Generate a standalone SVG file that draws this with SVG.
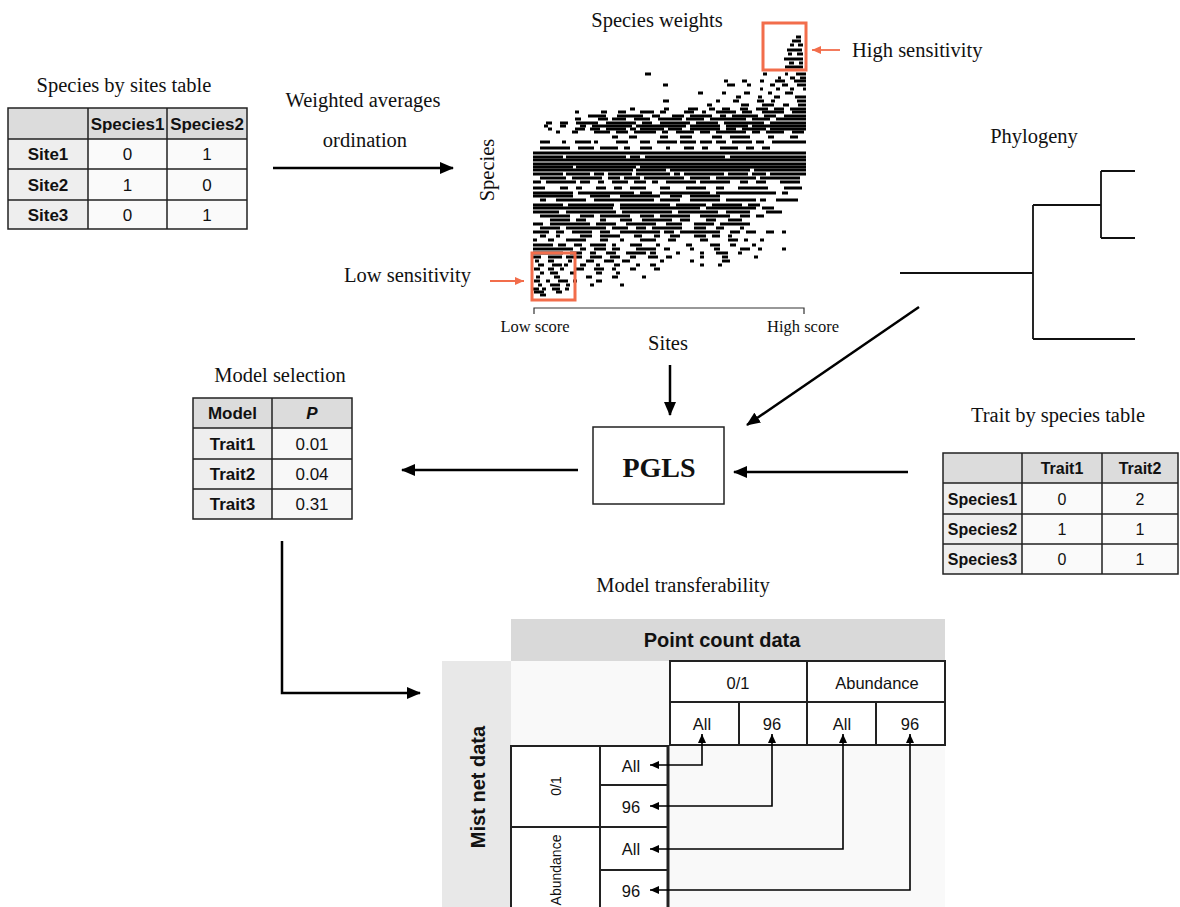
<svg xmlns="http://www.w3.org/2000/svg" width="1180" height="907" viewBox="0 0 1180 907">
  <style>
    .ttl { font-family: "Liberation Serif", serif; font-size: 20.5px; fill: #111; }
    .sm { font-family: "Liberation Serif", serif; font-size: 16.5px; fill: #111; }
    .tb { font-family: "Liberation Sans", Arial, sans-serif; font-size: 17px; fill: #111; text-anchor: middle; dominant-baseline: central; }
    .b { font-weight: bold; }
    .grid { fill: none; stroke: #222; stroke-width: 1.5; }
    .cell { stroke: #222; stroke-width: 2; fill: #fff; }
    .conn { fill: none; stroke: #000; stroke-width: 2.5; }
    .thin { fill: none; stroke: #000; stroke-width: 1.6; }
    .org { fill: none; stroke: #f26d4b; stroke-width: 3; }
    .raster path { stroke: #000; stroke-width: 2.9; fill: none; }
  </style>
  <defs>
    <marker id="ah" markerUnits="userSpaceOnUse" markerWidth="14" markerHeight="12" refX="13" refY="6" orient="auto-start-reverse">
      <path d="M0,0 L14,6 L0,12 z" fill="#000"/>
    </marker>
    <marker id="ahs" markerUnits="userSpaceOnUse" markerWidth="9" markerHeight="8" refX="9" refY="4" orient="auto-start-reverse">
      <path d="M0,0 L9,4 L0,8 z" fill="#000"/>
    </marker>
    <marker id="aho" markerUnits="userSpaceOnUse" markerWidth="9" markerHeight="8" refX="9" refY="4" orient="auto">
      <path d="M0,0 L9,4 L0,8 z" fill="#f26d4b"/>
    </marker>
  </defs>
  <rect width="1180" height="907" fill="#fff"/>

  <!-- Species by sites table -->
  <g id="sites-table">
    <text class="ttl" x="124" y="92" text-anchor="middle">Species by sites table</text>
    <rect x="8" y="108" width="239" height="31" fill="#dcdcdc"/>
    <rect x="8" y="139" width="80" height="90" fill="#eeeeee"/>
    <rect x="88" y="139" width="159" height="90" fill="#fafafa"/>
    <path class="grid" d="M8 108H247V229H8Z M88 108V229 M167 108V229 M8 139H247 M8 169H247 M8 200H247"/>
    <text class="tb b" x="127.5" y="124">Species1</text>
    <text class="tb b" x="207" y="124">Species2</text>
    <text class="tb b" x="48" y="154">Site1</text>
    <text class="tb" x="127.5" y="154">0</text>
    <text class="tb" x="207" y="154">1</text>
    <text class="tb b" x="48" y="185">Site2</text>
    <text class="tb" x="127.5" y="185">1</text>
    <text class="tb" x="207" y="185">0</text>
    <text class="tb b" x="48" y="215">Site3</text>
    <text class="tb" x="127.5" y="215">0</text>
    <text class="tb" x="207" y="215">1</text>
  </g>

  <!-- Ordination label -->
  <g id="ordination-label">
    <text class="ttl" x="363" y="107" text-anchor="middle">Weighted averages</text>
    <text class="ttl" x="365" y="147" text-anchor="middle">ordination</text>
  </g>

  <!-- Species weights raster -->
  <g id="species-weights">
    <text class="ttl" x="657" y="27" text-anchor="middle">Species weights</text>
    <text class="ttl" transform="translate(494 170) rotate(-90)" text-anchor="middle">Species</text>
    <g class="raster">
      <path d="M796 37h5 M792 41h9 M790 45h4 M798 45h5 M787 50h15 M788 54h4 M797 54h6 M784 59h19 M789 63h5 M799 63h4 M785 67h18"/>
      <path d="M645 74h6 M763 74h4 M785 74h3 M796 74h10"/>
      <path d="M778 78h3 M790 78h5 M800 78h6"/>
      <path d="M724 81h4 M742 81h5 M760 81h4 M775 81h10 M794 81h12"/>
      <path d="M663 85h5 M727 85h8 M747 85h4 M770 85h5 M782 85h6 M797 85h9"/>
      <path d="M760 89h3 M776 89h4 M790 89h4 M803 89h3"/>
      <path d="M698 93h5 M722 93h4 M744 93h6 M768 93h4 M785 93h8"/>
      <path d="M736 97h5 M758 97h4 M774 97h6 M795 97h11"/>
      <path d="M663 101h6 M716 101h4 M733 101h6 M757 101h7 M771 101h4 M797 101h9"/>
      <path d="M707 105h5 M741 105h8 M762 105h12 M783 105h6 M798 105h8"/>
      <path d="M630 109h5 M664 109h5 M688 109h10 M709 109h6 M722 109h8 M740 109h8 M756 109h12 M774 109h10 M790 109h16"/>
      <path d="M575 112h4 M601 112h6 M618 112h8 M640 112h14 M660 112h6 M684 112h10 M702 112h4 M716 112h20 M742 112h10 M762 112h22 M792 112h14"/>
      <path d="M588 116h18 M617 116h26 M652 116h8 M672 116h12 M690 116h22 M720 116h6 M732 116h26 M764 116h12 M784 116h22"/>
      <path d="M575 119h6 M598 119h10 M612 119h14 M634 119h16 M658 119h24 M686 119h18 M710 119h36 M752 119h18 M776 119h30"/>
      <path d="M546 123h6 M560 123h8 M576 123h22 M606 123h30 M642 123h10 M660 123h30 M696 123h22 M724 123h40 M770 123h36"/>
      <path d="M544 126h4 M560 126h6 M580 126h6 M592 126h40 M636 126h50 M690 126h30 M726 126h22 M752 126h54"/>
      <path d="M548 129h4 M575 129h10 M590 129h10 M606 129h20 M630 129h6 M640 129h24 M668 129h14 M690 129h30 M726 129h10 M742 129h24 M770 129h36"/>
      <path d="M556 132h4 M572 132h6 M594 132h16 M616 132h12 M634 132h22 M662 132h6 M676 132h18 M700 132h10 M716 132h30 M752 132h8 M766 132h18 M792 132h12"/>
      <path d="M612 137h6 M629 137h8 M660 137h8 M680 137h12 M712 137h10 M730 137h20 M768 137h6 M790 137h8"/>
      <path d="M540 142h10 M562 142h4 M575 142h16 M594 142h4 M616 142h12 M640 142h10 M657 142h20 M680 142h16 M700 142h12 M716 142h10 M732 142h20 M756 142h8 M772 142h34"/>
      <path d="M540 148h30 M578 148h16 M600 148h18 M624 148h6 M640 148h12 M666 148h4 M684 148h10 M702 148h6 M720 148h18 M746 148h8 M762 148h8"/>
      <path d="M533 153h273"/>
      <path d="M533 157h30 M566 157h60 M630 157h10 M645 157h80 M730 157h76"/>
      <path d="M533 160h273"/>
      <path d="M533 164h273"/>
      <path d="M533 167h40 M576 167h60 M640 167h166"/>
      <path d="M533 170h100 M636 170h30 M670 170h80 M754 170h52"/>
      <path d="M533 174h30 M566 174h24 M594 174h10 M608 174h24 M636 174h34 M674 174h6 M684 174h40 M728 174h20 M752 174h14 M770 174h36"/>
      <path d="M540 178h26 M572 178h30 M608 178h12 M624 178h16 M644 178h40 M690 178h20 M716 178h40 M760 178h40"/>
      <path d="M533 182h8 M546 182h30 M580 182h10 M598 182h6 M612 182h16 M634 182h12 M652 182h6 M666 182h30 M700 182h30 M740 182h8 M756 182h10 M780 182h20"/>
      <path d="M533 188h12 M560 188h8 M576 188h6 M596 188h10 M614 188h8 M630 188h16 M660 188h10 M686 188h20 M716 188h8 M738 188h30 M784 188h18"/>
      <path d="M533 193h40 M578 193h56 M640 193h12 M660 193h50 M716 193h60 M782 193h6"/>
      <path d="M533 196h40 M590 196h20 M620 196h40 M670 196h12 M690 196h30"/>
      <path d="M540 200h6 M556 200h30 M594 200h60 M660 200h20 M690 200h30 M726 200h30 M760 200h6 M776 200h22"/>
      <path d="M533 205h30 M568 205h46 M620 205h50 M676 205h30 M712 205h30 M748 205h12"/>
      <path d="M533 208h80 M620 208h80 M706 208h50 M762 208h12"/>
      <path d="M533 212h26 M566 212h50 M622 212h50 M678 212h40 M726 212h24 M766 212h16"/>
      <path d="M540 216h30 M580 216h14 M600 216h30 M640 216h14 M660 216h30 M700 216h30 M740 216h10 M756 216h8"/>
      <path d="M550 220h20 M576 220h10 M600 220h6 M620 220h12 M642 220h30 M680 220h10 M706 220h10 M728 220h14"/>
      <path d="M533 224h10 M550 224h40 M596 224h20 M626 224h30 M666 224h16 M694 224h20 M720 224h30"/>
      <path d="M540 228h20 M566 228h40 M612 228h16 M636 228h10 M652 228h30 M694 228h12 M716 228h8 M740 228h4"/>
      <path d="M533 232h16 M556 232h8 M572 232h20 M600 232h10 M620 232h40 M664 232h10 M680 232h40 M730 232h10 M746 232h10 M766 232h8 M782 232h4"/>
      <path d="M540 236h6 M556 236h4 M580 236h12 M600 236h20 M634 236h8 M654 236h6 M670 236h10 M694 236h12 M712 236h8 M728 236h4"/>
      <path d="M533 240h4 M548 240h6 M566 240h20 M600 240h8 M620 240h4 M640 240h16 M668 240h8 M700 240h8 M728 240h10 M744 240h4 M760 240h4"/>
      <path d="M533 245h20 M558 245h8 M574 245h8 M590 245h16 M612 245h4 M630 245h12 M656 245h4 M686 245h6 M710 245h10 M730 245h6 M752 245h4"/>
      <path d="M533 249h40 M580 249h6 M594 249h12 M612 249h8 M636 249h20 M664 249h6 M690 249h4 M714 249h6 M740 249h10 M758 249h4 M782 249h4"/>
      <path d="M533 253h30 M570 253h12 M590 253h6 M606 253h10 M626 253h20 M650 253h6 M676 253h4 M700 253h4 M716 253h12 M738 253h4"/>
      <path d="M533 257h8 M548 257h14 M566 257h16 M590 257h12 M610 257h10 M630 257h6 M648 257h10 M666 257h6 M700 257h4 M722 257h6 M754 257h4"/>
      <path d="M535 261h4 M548 261h6 M568 261h4 M586 261h8 M604 261h10 M622 261h8 M660 261h4 M690 261h4 M722 261h8"/>
      <path d="M538 265h6 M552 265h10 M564 265h4 M580 265h6 M596 265h4 M614 265h6 M636 265h4 M650 265h6 M700 265h4 M718 265h4"/>
      <path d="M534 269h6 M548 269h6 M560 269h4 M576 269h8 M594 269h10 M612 269h4 M630 269h6 M654 269h6"/>
      <path d="M540 273h4 M550 273h8 M570 273h4 M596 273h6 M616 273h4"/>
      <path d="M536 277h4 M554 277h6 M586 277h6 M612 277h6 M642 277h4"/>
      <path d="M534 281h6 M546 281h4 M558 281h10 M573 281h4 M596 281h6"/>
      <path d="M538 285h4 M550 285h10 M566 285h4 M590 285h4 M620 285h4"/>
      <path d="M533 289h6 M542 289h4 M552 289h8 M565 289h4"/>
      <path d="M534 292h10 M556 292h6"/>
      <path d="M540 295h6"/>
    </g>
    <rect class="org" x="763" y="23" width="43" height="47"/>
    <rect class="org" x="532" y="253" width="43" height="47"/>
    <path d="M840 50H812" stroke="#f26d4b" stroke-width="1.8" marker-end="url(#aho)"/>
    <path d="M490 281H524" stroke="#f26d4b" stroke-width="1.8" marker-end="url(#aho)"/>
    <text class="ttl" x="852" y="57">High sensitivity</text>
    <text class="ttl" x="471" y="282" text-anchor="end">Low sensitivity</text>
    <path d="M534 314V308H804V314" fill="none" stroke="#333" stroke-width="1.2"/>
    <text class="sm" x="535" y="332" text-anchor="middle">Low score</text>
    <text class="sm" x="803" y="332" text-anchor="middle">High score</text>
    <text class="ttl" x="668" y="350" text-anchor="middle">Sites</text>
  </g>

  <!-- Phylogeny -->
  <g id="phylogeny">
    <text class="ttl" x="1034" y="143" text-anchor="middle">Phylogeny</text>
    <path d="M900 273H1033 M1033 205V339 M1033 205H1101 M1101 171V238 M1101 171H1135 M1101 238H1135 M1033 339H1135" fill="none" stroke="#111" stroke-width="1.8"/>
  </g>

  <!-- PGLS -->
  <g id="pgls">
    <rect x="593" y="427" width="131" height="77" fill="#fff" stroke="#222" stroke-width="1.5"/>
    <text x="659" y="477" text-anchor="middle" font-family="Liberation Serif, serif" font-size="28" font-weight="bold" fill="#111">PGLS</text>
  </g>

  <!-- Model selection table -->
  <g id="model-table">
    <text class="ttl" x="280" y="382" text-anchor="middle">Model selection</text>
    <rect x="193" y="398" width="159" height="30" fill="#dcdcdc"/>
    <rect x="193" y="428" width="79" height="91" fill="#eeeeee"/>
    <rect x="272" y="428" width="80" height="91" fill="#f8f8f8"/>
    <path class="grid" d="M193 398H352V519H193Z M272 398V519 M193 428H352 M193 459H352 M193 489H352"/>
    <text class="tb b" x="232.5" y="413">Model</text>
    <text class="tb b" x="312" y="413" font-style="italic">P</text>
    <text class="tb b" x="232.5" y="444">Trait1</text>
    <text class="tb" x="312" y="444">0.01</text>
    <text class="tb b" x="232.5" y="474">Trait2</text>
    <text class="tb" x="312" y="474">0.04</text>
    <text class="tb b" x="232.5" y="504">Trait3</text>
    <text class="tb" x="312" y="504">0.31</text>
  </g>

  <!-- Trait by species table -->
  <g id="trait-table">
    <text class="ttl" x="1058" y="422" text-anchor="middle">Trait by species table</text>
    <rect x="943" y="453" width="235" height="30" fill="#dcdcdc"/>
    <rect x="943" y="483" width="79" height="91" fill="#eeeeee"/>
    <rect x="1022" y="483" width="156" height="91" fill="#fafafa"/>
    <path class="grid" d="M943 453H1178V574H943Z M1022 453V574 M1102 453V574 M943 483H1178 M943 514H1178 M943 544H1178"/>
    <g>
      <text class="tb b" x="1062" y="468" style="font-size:16px">Trait1</text>
      <text class="tb b" x="1140" y="468" style="font-size:16px">Trait2</text>
      <text class="tb b" x="982.5" y="499" style="font-size:16px">Species1</text>
      <text class="tb" x="1062" y="499" style="font-size:16px">0</text>
      <text class="tb" x="1140" y="499" style="font-size:16px">2</text>
      <text class="tb b" x="982.5" y="529" style="font-size:16px">Species2</text>
      <text class="tb" x="1062" y="529" style="font-size:16px">1</text>
      <text class="tb" x="1140" y="529" style="font-size:16px">1</text>
      <text class="tb b" x="982.5" y="559" style="font-size:16px">Species3</text>
      <text class="tb" x="1062" y="559" style="font-size:16px">0</text>
      <text class="tb" x="1140" y="559" style="font-size:16px">1</text>
    </g>
  </g>

  <!-- Model transferability grid -->
  <g id="transferability">
    <text class="ttl" x="683" y="592" text-anchor="middle">Model transferability</text>
    <rect x="511" y="619" width="434" height="42" fill="#d9d9d9"/>
    <rect x="442" y="661" width="69" height="246" fill="#e8e8e8"/>
    <rect x="511" y="661" width="434" height="246" fill="#f9f9f9"/>
    <text class="tb b" x="722" y="640" style="font-size:20px">Point count data</text>
    <text class="tb b" transform="translate(478 787) rotate(-90)" x="0" y="0" style="font-size:20px">Mist net data</text>

    <rect class="cell" x="670" y="661" width="137" height="41"/>
    <rect class="cell" x="807" y="661" width="138" height="41"/>
    <rect class="cell" x="670" y="702" width="69" height="43"/>
    <rect class="cell" x="739" y="702" width="68" height="43"/>
    <rect class="cell" x="807" y="702" width="69" height="43"/>
    <rect class="cell" x="876" y="702" width="69" height="43"/>
    <text class="tb" x="738" y="683" style="font-size:16.5px">0/1</text>
    <text class="tb" x="877" y="683" style="font-size:16.5px">Abundance</text>
    <text class="tb" x="702" y="724" style="font-size:16.5px">All</text>
    <text class="tb" x="772" y="724" style="font-size:16.5px">96</text>
    <text class="tb" x="842" y="724" style="font-size:16.5px">All</text>
    <text class="tb" x="910" y="724" style="font-size:16.5px">96</text>

    <rect class="cell" x="511" y="746" width="89" height="81"/>
    <rect class="cell" x="511" y="827" width="89" height="95"/>
    <rect class="cell" x="600" y="746" width="68" height="39"/>
    <rect class="cell" x="600" y="785" width="68" height="42"/>
    <rect class="cell" x="600" y="827" width="68" height="43"/>
    <rect class="cell" x="600" y="870" width="68" height="52"/>
    <path d="M668 746V907" stroke="#222" stroke-width="3"/>
    <text class="tb" transform="translate(556 786) rotate(-90)" x="0" y="0" style="font-size:14px">0/1</text>
    <text class="tb" transform="translate(556 870) rotate(-90)" x="0" y="0" style="font-size:14px">Abundance</text>
    <text class="tb" x="631" y="766" style="font-size:16.5px">All</text>
    <text class="tb" x="631" y="807" style="font-size:16.5px">96</text>
    <text class="tb" x="631" y="849" style="font-size:16.5px">All</text>
    <text class="tb" x="631" y="891" style="font-size:16.5px">96</text>
  </g>

  <!-- Connectors -->
  <g id="connectors">
    <path class="conn" d="M273 168H453" marker-end="url(#ah)"/>
    <path class="conn" d="M670 365V415" marker-end="url(#ah)"/>
    <path class="conn" d="M919 307L747 425" marker-end="url(#ah)"/>
    <path class="conn" d="M908 472H734" marker-end="url(#ah)"/>
    <path class="conn" d="M578 470H402" marker-end="url(#ah)"/>
    <path class="conn" d="M282 541V693H420" marker-end="url(#ah)"/>
    <path class="thin" d="M650 765H702V734" marker-start="url(#ahs)" marker-end="url(#ahs)"/>
    <path class="thin" d="M650 806H772V734" marker-start="url(#ahs)" marker-end="url(#ahs)"/>
    <path class="thin" d="M650 849H843V734" marker-start="url(#ahs)" marker-end="url(#ahs)"/>
    <path class="thin" d="M650 890H910V734" marker-start="url(#ahs)" marker-end="url(#ahs)"/>
  </g>
</svg>
